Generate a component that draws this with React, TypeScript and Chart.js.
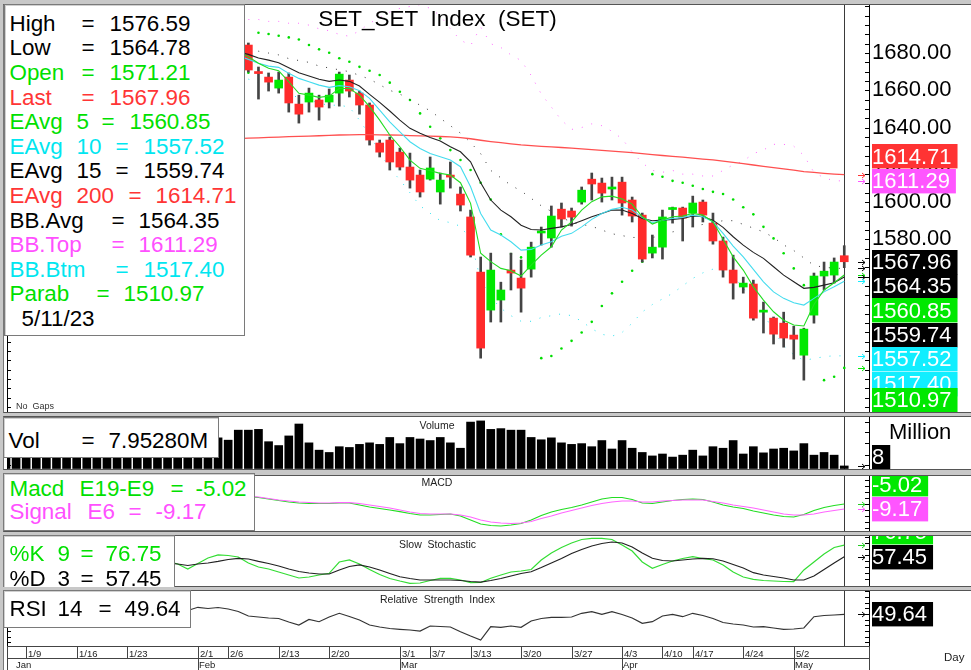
import React, { useEffect, useRef } from "react";
import { Chart, registerables } from "chart.js";

Chart.register(...registerables);

const FONT = '"Liberation Sans", Arial, Helvetica, sans-serif';
const _ = null;

// ---------------- data ----------------
const DATES = [
  "1/5","1/6","1/9","1/10","1/11","1/12","1/13","1/16","1/17","1/18","1/19","1/20","1/23","1/24","1/25","1/26","1/27","1/30","1/31",
  "2/1","2/2","2/3","2/6","2/7","2/8","2/9","2/10","2/13","2/14","2/15","2/16","2/17","2/20","2/21","2/22","2/23","2/24","2/27","2/28",
  "3/1","3/2","3/3","3/7","3/8","3/9","3/10","3/13","3/14","3/15","3/16","3/17","3/20","3/21","3/22","3/23","3/24","3/27","3/28","3/29","3/30","3/31",
  "4/3","4/4","4/5","4/7","4/10","4/11","4/12","4/17","4/18","4/19","4/20","4/21","4/24","4/25","4/26","4/27","4/28",
  "5/2","5/3","5/8","5/9","5/10","5/11",
];
const LAST = DATES.length - 1;
const LAST_DATE_TEXT = "5/11/23";

const OPEN = [
  _,_,_,_,_,_,_,_,_,_,_,_,_,_,_,_,_,_,_,_,_,_,_,_,
  1684.3,1669.8,1667.1,1661.2,1667.1,1652.6,1653.7,1654.8,1653.7,1658.5,
  1665.5,1658.5,1652.1,1631.7,1633.3,1626.8,1618.8,1614.5,1612.3,1605.4,
  1614.5,1604.3,1592.0,1562.4,1542.0,1547.4,1563.5,1559.2,1564.0,1583.4,
  1580.7,1596.2,1595.2,1600.0,1612.3,1610.2,1607.0,1610.7,1601.1,1593.0,
  1572.6,1575.8,1596.0,1596.8,1594.1,1600.0,1588.7,1579.1,1563.5,1554.4,
  1556.0,1540.9,1537.7,1535.0,1528.6,1517.8,1539.3,1560.3,1560.8,1571.21,
];
const HIGH = [
  _,_,_,_,_,_,_,_,_,_,_,_,_,_,_,_,_,_,_,_,_,_,_,_,
  1685.4,1672.5,1669.3,1669.8,1669.3,1657.4,1661.2,1657.4,1660.7,1669.8,
  1668.2,1659.6,1653.2,1633.3,1634.9,1629.0,1626.3,1617.2,1624.2,1615.6,
  1621.5,1608.1,1595.7,1570.5,1572.6,1557.0,1572.6,1568.9,1578.5,1586.6,
  1597.9,1599.5,1596.8,1608.1,1615.6,1612.9,1613.4,1613.4,1602.7,1594.1,
  1582.3,1595.7,1597.3,1597.3,1603.2,1601.1,1594.1,1581.2,1571.5,1559.7,
  1558.1,1546.3,1538.3,1540.9,1533.4,1532.3,1561.9,1567.8,1570.0,1576.59,
];
const LOW = [
  _,_,_,_,_,_,_,_,_,_,_,_,_,_,_,_,_,_,_,_,_,_,_,_,
  1669.8,1655.3,1659.6,1658.5,1648.3,1642.4,1648.3,1644.0,1650.5,1651.5,
  1656.4,1647.2,1630.6,1624.2,1617.2,1617.2,1607.5,1602.7,1611.8,1598.9,
  1607.5,1595.2,1570.5,1516.2,1535.6,1535.6,1552.8,1540.9,1559.7,1576.9,
  1575.8,1586.6,1587.1,1598.9,1601.1,1600.0,1601.1,1593.0,1589.3,1567.8,
  1570.0,1569.4,1588.7,1579.1,1586.6,1589.3,1577.4,1559.7,1547.9,1551.1,
  1536.6,1529.7,1523.8,1522.1,1515.7,1504.4,1535.0,1552.8,1556.5,1564.78,
];
const CLOSE = [
  _,_,_,_,_,_,_,_,_,_,_,_,_,_,_,_,_,_,_,_,_,_,_,_,
  1670.9,1669.0,1664.4,1665.5,1653.2,1647.2,1658.5,1651.0,1657.4,1668.7,
  1659.6,1652.1,1633.3,1626.8,1621.5,1618.8,1611.8,1605.4,1618.3,1611.8,
  1613.4,1598.4,1571.5,1521.6,1563.5,1552.8,1561.9,1553.8,1575.8,1583.9,
  1592.5,1590.9,1591.9,1606.4,1609.7,1604.8,1608.1,1599.5,1592.5,1569.4,
  1575.8,1592.0,1596.2,1591.4,1599.5,1593.0,1579.1,1563.5,1556.5,1556.5,
  1537.7,1542.0,1529.1,1527.0,1526.4,1531.8,1560.3,1562.9,1567.8,1567.96,
];
const VOLUME = [
  78,70,85,74,66,72,80,68,75,90,70,64,76,82,72,68,86,74,80,92,84,
  81,75,101,101,103,71,61,86,117,68,
  49,43,58,56,64,68,64,82,66,82,
  78,74,82,68,54,122,125,103,105,101,
  101,82,76,81,68,64,66,58,74,52,
  74,54,43,34,39,31,36,49,34,58,
  54,74,39,58,42,52,54,47,66,36,
  43,36,7.9528,
];
const EMA5 = [
  _,_,_,_,_,_,_,_,_,_,_,_,_,_,_,_,_,_,_,_,_,_,_,
  1681.0,1678.0,1674.5,1671.8,1670.5,1664.6,1658.4,1657.4,1656.2,1656.9,
  1661.0,1661.0,1657.4,1651.2,1644.0,1636.0,1629.7,1622.5,1618.1,1616.8,
  1615.4,1614.5,1610.4,1599.3,1572.5,1568.0,1564.4,1563.1,1560.3,1566.2,
  1571.5,1576.0,1585.0,1589.4,1595.7,1600.2,1602.8,1603.2,1601.6,1598.9,
  1592.1,1588.2,1590.3,1592.1,1592.5,1593.9,1593.0,1589.4,1580.0,1570.6,
  1563.5,1554.5,1547.4,1541.1,1536.6,1534.0,1533.5,1545.0,1552.8,1556.7,1560.85,
];
const EMA10 = [
  _,_,_,_,_,_,_,_,_,_,_,_,_,_,_,_,_,_,_,_,_,_,_,
  1678.5,1676.6,1674.5,1673.0,1672.3,1669.1,1666.4,1664.6,1662.8,1661.6,
  1662.5,1661.9,1659.8,1655.7,1649.4,1643.1,1637.7,1632.4,1628.8,1626.1,
  1624.3,1622.6,1619.0,1608.2,1593.9,1585.0,1582.3,1578.7,1574.2,1574.6,
  1576.9,1578.7,1581.7,1583.2,1586.7,1590.7,1593.9,1596.1,1597.2,1595.7,
  1591.8,1588.9,1590.3,1591.2,1591.8,1593.0,1592.1,1589.4,1583.2,1576.4,
  1570.6,1563.9,1557.2,1551.8,1548.3,1545.9,1544.7,1548.3,1551.8,1554.5,1557.52,
];
const EMA15 = [
  _,_,_,_,_,_,_,_,_,_,_,_,_,_,_,_,_,_,_,_,_,_,_,
  1680.5,1679.3,1677.3,1676.2,1674.8,1672.1,1669.4,1667.7,1665.9,1664.8,
  1665.5,1664.8,1662.3,1657.8,1653.5,1648.9,1644.0,1639.6,1636.9,1634.7,
  1632.8,1629.7,1627.0,1621.6,1610.4,1601.1,1595.7,1592.1,1587.6,1585.3,
  1585.0,1585.9,1586.7,1588.0,1590.0,1592.1,1593.9,1595.7,1595.7,1593.9,
  1591.2,1590.0,1590.3,1590.7,1591.2,1592.5,1592.1,1590.3,1586.4,1581.4,
  1576.9,1573.0,1569.8,1565.3,1560.8,1557.2,1553.7,1554.2,1555.4,1556.7,1559.74,
];
const EMA200 = [
  _,_,_,_,_,_,_,_,_,_,_,_,_,_,_,_,_,_,_,_,_,_,_,
  1634.1,1634.3,1634.5,1634.7,1634.9,1635.1,1635.3,1635.4,1635.6,1635.8,
  1636.0,1636.1,1636.2,1636.2,1636.1,1636.0,1635.9,1635.7,1635.5,1635.4,
  1635.2,1635.0,1634.6,1634.0,1633.2,1632.5,1631.9,1631.3,1630.7,1630.3,
  1629.9,1629.6,1629.3,1629.0,1628.6,1628.2,1627.8,1627.4,1627.0,1626.5,
  1626.0,1625.5,1625.0,1624.5,1624.1,1623.6,1623.1,1622.6,1622.0,1621.3,
  1620.6,1619.9,1619.2,1618.5,1617.8,1617.1,1616.4,1615.9,1615.4,1615.0,1614.71,
];
const BB_AVG = [
  _,_,_,_,_,_,_,_,_,_,_,_,_,_,_,_,_,_,_,_,_,_,_,_,
  1682,1681,1680,1679,1677,1676,1675,1673,1672,1671,
  1670,1668,1666,1663,1660,1658,1655,1652,1649,1645,
  1641,1637,1632,1626,1617,1613,1609,1606,1602,1598,
  1595,1592,1589,1588,1587,1585,1583,1582,1581,1581,
  1581,1582,1584,1585,1587,1588,1589,1590,1590,1588,
  1586,1584,1581,1577,1574,1570,1566,1565,1564.5,1564.35,
];
const BB_TOP = [
  _,_,_,_,_,_,_,_,_,_,_,_,_,_,_,_,_,_,_,_,_,_,_,_,
  1698,1698,1697,1697,1696,1696,1695,1693,1692,1690,
  1689,1692,1696,1699,1702,1704,1705,1706,1704,1700,
  1693,1687,1684,1694,1685,1683,1679,1676,1668,1658,
  1651,1644,1639,1640,1642,1641,1638,1634,1627,1621,
  1617,1616,1617,1615,1615,1614,1614,1617,1620,1622,
  1626,1628,1631,1631,1630,1625,1616,1613,1611.5,1611.29,
];
const BB_BTM = [
  _,_,_,_,_,_,_,_,_,_,_,_,_,_,_,_,_,_,_,_,_,_,_,_,
  1666,1664,1663,1661,1658,1656,1655,1653,1652,1652,
  1651,1644,1636,1627,1618,1612,1605,1598,1594,1590,
  1589,1587,1580,1558,1549,1543,1539,1536,1536,1538,
  1539,1540,1539,1536,1532,1529,1528,1530,1535,1541,
  1545,1548,1551,1555,1559,1562,1564,1563,1560,1554,
  1546,1540,1531,1523,1518,1515,1516,1517,1517.5,1517.40,
];
const PARAB = [
  _,_,_,_,_,_,_,_,_,_,_,_,_,_,_,_,_,_,_,_,_,_,_,_,
  1669.4,1690.9,1690.2,1689.3,1688.4,1687.3,1684.3,1682.0,1680.2,1677.2,
  1675.3,1672.6,1670.5,1668.2,1664.1,1659.2,1654.8,1647.6,1640.4,1634.2,
  1627.9,1622.6,1617.2,1610.4,1601.4,1582.7,1572.1,1570.3,_,1516.2,
  1517.4,1521.4,1525.5,1530.0,1535.7,1544.2,1551.0,1557.2,1563.1,1568.0,
  1615.0,1613.6,1611.4,1610.4,1608.8,1607.0,1605.5,1604.3,1601.4,1597.2,
  1593.4,1586.7,1580.5,1572.5,1564.4,1555.4,_,1504.4,1506.2,1510.97,
];
const MACD = [
  _,_,_,_,_,_,_,_,_,_,_,_,_,_,_,_,_,_,_,_,_,_,_,_,
  1.23,0.40,-0.85,-2.10,-3.35,-4.19,-4.60,-4.60,-4.60,-4.19,
  -4.19,-5.85,-7.52,-8.77,-10.02,-11.44,-12.94,-14.19,-14.19,-13.77,
  -13.35,-15.02,-18.35,-21.69,-22.94,-23.35,-22.52,-21.27,-18.35,-14.60,
  -11.69,-9.60,-7.94,-5.85,-3.35,-0.85,0.40,0.40,-1.27,-4.19,
  -4.60,-3.35,-2.10,-1.27,-0.85,-1.27,-3.35,-5.85,-7.52,-8.77,
  -10.85,-12.52,-14.19,-15.44,-15.85,-13.77,-10.44,-7.94,-6.27,-5.02,
];
const SIGNAL = [
  _,_,_,_,_,_,_,_,_,_,_,_,_,_,_,_,_,_,_,_,_,_,_,_,
  1.65,0.81,-0.44,-1.69,-2.52,-3.35,-3.77,-4.19,-4.19,-3.94,
  -3.94,-4.60,-5.85,-7.10,-8.35,-10.02,-11.69,-12.94,-13.35,-13.35,
  -13.35,-14.19,-15.85,-18.35,-20.02,-20.85,-21.27,-20.85,-19.60,-17.10,
  -15.02,-12.52,-10.44,-8.35,-6.27,-4.60,-3.35,-2.52,-2.52,-3.35,
  -3.35,-2.52,-2.10,-1.69,-1.69,-1.69,-2.94,-4.19,-5.85,-7.10,
  -8.35,-10.02,-11.69,-13.35,-14.19,-14.19,-13.35,-11.69,-10.44,-9.17,
];
const STOCH_K = [
  _,_,_,_,_,_,_,_,_,_,_,_,_,_,_,_,
  50.0,45.5,37.2,46.4,55.5,60.5,59.6,57.1,
  47.2,40.5,37.2,32.2,27.3,22.3,23.9,27.3,30.1,48.8,
  52.2,45.5,36.4,28.1,21.5,17.3,13.5,14.0,18.1,21.5,
  21.8,19.0,14.5,14.8,21.8,27.3,32.2,33.9,36.4,52.2,
  63.8,72.9,80.4,86.2,88.2,88.2,86.2,77.1,67.1,48.8,
  38.4,44.7,50.5,54.7,57.6,54.7,52.2,43.9,32.2,23.9,
  20.1,18.1,17.3,16.5,16.1,35.6,48.8,62.1,72.9,76.75,
];
const STOCH_D = [
  _,_,_,_,_,_,_,_,_,_,_,_,_,_,_,_,
  47.0,45.5,43.0,45.5,47.2,49.8,53.0,55.0,
  53.8,49.8,46.4,42.2,37.2,33.1,30.6,28.9,28.9,35.6,
  41.4,43.9,40.5,35.6,29.8,24.4,21.5,19.0,19.0,19.0,
  19.0,18.1,16.5,15.6,18.1,21.5,25.6,29.8,32.7,39.7,
  47.2,54.7,63.0,69.6,75.4,79.6,82.0,80.4,73.7,63.8,
  55.0,51.3,50.5,52.2,53.8,55.0,54.2,50.5,44.7,38.9,
  31.1,27.3,24.8,22.3,19.0,19.0,25.6,36.4,47.2,57.45,
];
const RSI = [
  _,_,_,_,_,_,_,_,_,_,_,_,_,_,_,_,_,
  53.5,52.98,55.80,54.74,55.62,54.30,52.10,
  48.14,47.27,46.39,45.95,42.87,40.23,45.07,43.13,47.27,50.52,
  47.71,44.63,40.23,38.47,37.15,36.45,35.83,34.95,39.35,38.91,
  38.47,34.34,30.56,27.04,38.73,38.21,39.35,38.21,43.75,45.95,
  47.00,47.00,47.27,50.52,51.93,49.64,51.93,49.46,46.39,41.72,
  43.13,48.14,49.64,47.53,50.52,48.58,45.95,42.43,41.11,40.23,
  38.47,38.73,37.59,36.45,36.71,37.59,47.53,48.58,49.02,49.64,
];

const PRICE_TICKS = [1680, 1660, 1640, 1620, 1600, 1580, 1560, 1540, 1520, 1500];
const PRICE_TICK_LABELS = ["1680.00","1660.00","1640.00","1620.00","1600.00","1580.00","1560.00","1540.00","1520.00","1500.00"];
const WEEK_TICK_LABELS = ["1/9","1/16","1/23","2/1","2/6","2/13","2/20","3/1","3/7","3/13","3/20","3/27","4/3","4/10","4/17","4/24","5/2"];
const MONTH_LABELS = ["Jan", "Feb", "Mar", "Apr", "May"];
const MONTH_START_DATES = ["1/5", "2/1", "3/1", "4/3", "5/2"];
const VOL_TICKS = [10, 36, 68, 96, 122];
const MACD_TICKS = [15, 10, 5, 0, -5, -10, -15, -20, -25];
const STOCH_TICKS = [20, 30, 40, 50, 60, 70, 80, 90];
const RSI_TICKS = [25, 30, 35, 40, 45, 50, 55, 60, 65, 70];

// ---------------- styling / layout ----------------
const C_GREEN = "#00e800";
const C_RED = "#ff3333";
const C_CYAN = "#11eeff";
const C_MAGENTA = "#ff55ff";
const T_GREEN = "#00e000";
const T_RED = "#ff3535";
const T_CYAN = "#00e6f0";
const T_MAGENTA = "#ff50ff";

const X_MIN = 0.2;
const X_MAX = 85.45;
const AXIS_W = 102;
const CANVAS_W = 967;

const PANELS = [
  { top: 5, h: 407, extra: 0, yMin: 1487.3, yMax: 1705.8 },
  { top: 417, h: 52, extra: 0, yMin: 0, yMax: 135.2 },
  { top: 476, h: 55, extra: 0, yMin: -27.5, yMax: 18.3 },
  { top: 536, h: 50, extra: 0, yMin: 9, yMax: 92 },
  { top: 591, h: 55, extra: 24, yMin: 21.8, yMax: 70.1 },
];

const series = (arr: any[]) =>
  arr.map((v, i) => (v == null ? null : { x: i, y: v })).filter((p) => p !== null);

const lineDs = (arr: any[], color: string, width: number, extra: any = {}) => ({
  type: "line",
  data: series(arr),
  borderColor: color,
  borderWidth: width,
  pointRadius: 0,
  pointHitRadius: 0,
  fill: false,
  tension: 0,
  ...extra,
});

function makeDecor(cfg: any) {
  return {
    id: "decor",
    beforeDatasetsDraw(chart: any) {
      const { ctx, chartArea: a, scales } = chart;
      const x = Math.round(scales.x.getPixelForValue(LAST)) + 0.5;
      ctx.save();
      ctx.strokeStyle = "#3a3a3a";
      ctx.lineWidth = 1;
      ctx.beginPath();
      ctx.moveTo(x, a.top);
      ctx.lineTo(x, a.bottom);
      ctx.stroke();
      ctx.restore();
    },
    afterDraw(chart: any) {
      const { ctx, chartArea: a, scales } = chart;
      const ys = scales.y;
      ctx.save();
      ctx.strokeStyle = "#000";
      ctx.lineWidth = 1;
      ctx.beginPath();
      ctx.moveTo(a.left - 0.5, a.top);
      ctx.lineTo(a.left - 0.5, a.bottom);
      ctx.stroke();
      const tv: number[] = [];
      if (cfg.tickStep) {
        for (let v = cfg.tickFrom; v <= cfg.tickTo; v += cfg.tickStep) tv.push(v);
      }
      (cfg.ticks || []).forEach((v: number) => tv.push(v));
      tv.forEach((v) => {
        const py = Math.round(ys.getPixelForValue(v)) + 0.5;
        if (py < a.top || py > a.bottom) return;
        ctx.beginPath();
        ctx.moveTo(a.right - 4, py);
        ctx.lineTo(a.right, py);
        if (cfg.leftTicks) {
          ctx.moveTo(a.left, py);
          ctx.lineTo(a.left + 3, py);
        }
        ctx.stroke();
      });

      if (cfg.boxes) {
        const H = 24.4;
        const items = cfg.boxes.map((b: any) => ({ ...b, py: ys.getPixelForValue(b.value), c: 0 }));
        const an = cfg.anchor || 0;
        items[an].c = items[an].py;
        for (let k = an - 1; k >= 0; k--) items[k].c = Math.min(items[k].py, items[k + 1].c - H);
        for (let k = an + 1; k < items.length; k++) items[k].c = Math.max(items[k].py, items[k - 1].c + H);
        items.forEach((it: any) => {
          if (it.c + H / 2 > a.bottom) it.c = a.bottom - H / 2;
        });
        items.forEach((it: any) => {
          const ay = Math.round(it.py) + 0.5;
          ctx.strokeStyle = it.arrow;
          ctx.beginPath();
          ctx.moveTo(a.right - 11, ay);
          ctx.lineTo(a.right - 4, ay);
          ctx.moveTo(a.right - 7, ay - 2.5);
          ctx.lineTo(a.right - 4, ay);
          ctx.lineTo(a.right - 7, ay + 2.5);
          ctx.stroke();
        });
        ctx.font = `22px ${FONT}`;
        ctx.textBaseline = "middle";
        ctx.textAlign = "left";
        items.forEach((it: any) => {
          const w = ctx.measureText(it.text).width + 6;
          ctx.fillStyle = it.bg;
          ctx.fillRect(a.right + 3, Math.round(it.c - H / 2), w, H);
          ctx.fillStyle = "#fff";
          ctx.fillText(it.text, a.right + 3, it.c + 1);
        });
      }

      if (cfg.xAxis) {
        const xs = scales.x;
        const y0 = a.bottom;
        const HH = chart.height;
        ctx.strokeStyle = "#444";
        const hl = (x1: number, x2: number, y: number) => {
          ctx.beginPath(); ctx.moveTo(x1, y); ctx.lineTo(x2, y); ctx.stroke();
        };
        const vl = (x: number, y1: number, y2: number) => {
          ctx.beginPath(); ctx.moveTo(x, y1); ctx.lineTo(x, y2); ctx.stroke();
        };
        hl(a.left - 1, a.right, y0 + 0.5);
        hl(a.left - 1, a.right, y0 + 12.5);
        vl(a.right + 0.5, y0, HH);
        vl(a.left - 0.5, y0, HH);
        ctx.fillStyle = "#222";
        ctx.font = `9.5px ${FONT}`;
        ctx.textBaseline = "alphabetic";
        ctx.textAlign = "left";
        WEEK_TICK_LABELS.forEach((lbl) => {
          const i = DATES.indexOf(lbl);
          const px = Math.round(xs.getPixelForValue(i)) + 0.5;
          const isMonth = MONTH_START_DATES.includes(lbl);
          vl(px, y0, isMonth ? HH : y0 + 12);
          ctx.fillText(lbl, px + 1.5, y0 + 11);
        });
        MONTH_LABELS.forEach((m, k) => {
          const i = DATES.indexOf(MONTH_START_DATES[k]);
          const px = xs.getPixelForValue(i);
          const lx = px < a.left ? a.left + 8 : Math.round(px) + 1;
          ctx.fillText(m, lx, HH - 2.5);
        });
      }
      ctx.restore();
    },
  };
}

function baseOptions(p: any, yExtra: any = {}) {
  return {
    animation: false,
    responsive: false,
    devicePixelRatio: 1,
    events: [],
    layout: { autoPadding: false, padding: { left: 4, right: 0, top: 0, bottom: p.extra } },
    plugins: { legend: { display: false }, tooltip: { enabled: false }, title: { display: false } },
    scales: {
      x: { type: "linear", min: X_MIN, max: X_MAX, display: false, offset: false },
      y: {
        position: "right",
        min: p.yMin,
        max: p.yMax,
        bounds: "data",
        grid: { drawOnChartArea: false, drawTicks: false },
        border: { display: true, color: "#000", width: 1 },
        ticks: { display: false },
        afterFit: (s: any) => {
          s.width = AXIS_W;
          s.paddingTop = 0;
          s.paddingBottom = 0;
        },
        ...yExtra,
      },
    },
  };
}

function buildConfigs() {
  const bodies = CLOSE.map((c, i) => (c == null ? null : { x: i, y: [OPEN[i], c] })).filter((p) => p !== null);
  const bodyColors = bodies.map((p: any) => (CLOSE[p.x] >= OPEN[p.x] ? C_GREEN : "#ff2b2b"));
  const wicks = CLOSE.map((c, i) => (c == null ? null : { x: i, y: [LOW[i], HIGH[i]] })).filter((p) => p !== null);

  const mainBoxes = [
    { value: EMA200[LAST], bg: C_RED },
    { value: BB_TOP[LAST], bg: C_MAGENTA },
    { value: CLOSE[LAST], bg: "#000" },
    { value: BB_AVG[LAST], bg: "#000" },
    { value: EMA5[LAST], bg: C_GREEN },
    { value: EMA15[LAST], bg: "#000" },
    { value: EMA10[LAST], bg: C_CYAN },
    { value: BB_BTM[LAST], bg: C_CYAN },
    { value: PARAB[LAST], bg: C_GREEN },
  ].map((b: any) => ({ ...b, text: b.value.toFixed(2), arrow: b.bg }));

  const main = {
    type: "line",
    data: {
      datasets: [
        { type: "line", data: series(PARAB), showLine: false, pointRadius: 1.3, pointBackgroundColor: "#00dd00", pointBorderWidth: 0, order: 10 },
        lineDs(BB_TOP, "#ff66ff", 1, { borderDash: [1, 9], order: 9 }),
        lineDs(BB_AVG, "#333333", 1, { borderDash: [1, 9], order: 9 }),
        lineDs(BB_BTM, "#22e0ee", 1, { borderDash: [1, 9], order: 9 }),
        { type: "bar", data: wicks, backgroundColor: "#444444", barThickness: 2, grouped: false, order: 8 },
        { type: "bar", data: bodies, backgroundColor: bodyColors, barThickness: 8, grouped: false, minBarLength: 2, order: 7 },
        lineDs(EMA200, "#ff5050", 1.3, { order: 4 }),
        lineDs(EMA15, "#222222", 1.1, { order: 3 }),
        lineDs(EMA10, "#44dcee", 1.1, { order: 2 }),
        lineDs(EMA5, "#22dd22", 1.1, { order: 1 }),
      ],
    },
    options: baseOptions(PANELS[0], {
      afterBuildTicks: (s: any) => {
        s.ticks = PRICE_TICKS.map((v) => ({ value: v }));
      },
      ticks: {
        display: true,
        autoSkip: false,
        padding: 3,
        color: "#000",
        font: { family: FONT, size: 22 },
        callback: (_v: any, idx: number) => PRICE_TICK_LABELS[idx],
      },
    }),
    plugins: [makeDecor({ tickStep: 5, tickFrom: 1490, tickTo: 1705, leftTicks: true, boxes: mainBoxes, anchor: 2 })],
  };

  const vol = {
    type: "line",
    data: {
      datasets: [{ type: "bar", data: series(VOLUME), backgroundColor: "#000", barThickness: 8, grouped: false }],
    },
    options: baseOptions(PANELS[1]),
    plugins: [
      makeDecor({
        ticks: VOL_TICKS,
        leftTicks: true,
        boxes: [{ value: VOLUME[LAST], text: String(Math.round(VOLUME[LAST])), bg: "#000", arrow: "#000" }],
        anchor: 0,
      }),
    ],
  };

  const macd = {
    type: "line",
    data: { datasets: [lineDs(SIGNAL, "#ff66ff", 1.2), lineDs(MACD, "#22dd22", 1.2)] },
    options: baseOptions(PANELS[2]),
    plugins: [
      makeDecor({
        ticks: MACD_TICKS,
        boxes: [
          { value: MACD[LAST], text: MACD[LAST].toFixed(2), bg: C_GREEN, arrow: "#22cc22" },
          { value: SIGNAL[LAST], text: SIGNAL[LAST].toFixed(2), bg: C_MAGENTA, arrow: C_MAGENTA },
        ],
        anchor: 1,
      }),
    ],
  };

  const stoch = {
    type: "line",
    data: { datasets: [lineDs(STOCH_D, "#222222", 1.2), lineDs(STOCH_K, "#33dd33", 1.2)] },
    options: baseOptions(PANELS[3]),
    plugins: [
      makeDecor({
        ticks: STOCH_TICKS,
        boxes: [
          { value: STOCH_K[LAST], text: STOCH_K[LAST].toFixed(2), bg: C_GREEN, arrow: "#22cc22" },
          { value: STOCH_D[LAST], text: STOCH_D[LAST].toFixed(2), bg: "#000", arrow: "#000" },
        ],
        anchor: 1,
      }),
    ],
  };

  const rsi = {
    type: "line",
    data: { datasets: [lineDs(RSI, "#333333", 1.2)] },
    options: baseOptions(PANELS[4]),
    plugins: [
      makeDecor({
        ticks: RSI_TICKS,
        leftTicks: true,
        boxes: [{ value: RSI[LAST], text: RSI[LAST].toFixed(2), bg: "#000", arrow: "#000" }],
        anchor: 0,
        xAxis: true,
      }),
    ],
  };
  return [main, vol, macd, stoch, rsi];
}

// ---------------- overlay text ----------------
const fmt = (v: any) => Number(v).toFixed(2);
const LEGEND_SIZE = 22.4;

const MAIN_ROWS = [
  { color: "#000", parts: [[11, "High"], [83, "="], [111, fmt(HIGH[LAST])]] },
  { color: "#000", parts: [[11, "Low"], [83, "="], [111, fmt(LOW[LAST])]] },
  { color: T_GREEN, parts: [[11, "Open"], [83, "="], [111, fmt(OPEN[LAST])]] },
  { color: T_RED, parts: [[11, "Last"], [83, "="], [111, fmt(CLOSE[LAST])]] },
  { color: T_GREEN, parts: [[11, "EAvg"], [78, "5"], [103, "="], [131, fmt(EMA5[LAST])]] },
  { color: T_CYAN, parts: [[11, "EAvg"], [78, "10"], [117, "="], [145, fmt(EMA10[LAST])]] },
  { color: "#000", parts: [[11, "EAvg"], [78, "15"], [117, "="], [145, fmt(EMA15[LAST])]] },
  { color: T_RED, parts: [[11, "EAvg"], [78, "200"], [130, "="], [157, fmt(EMA200[LAST])]] },
  { color: "#000", parts: [[11, "BB.Avg"], [113, "="], [140, fmt(BB_AVG[LAST])]] },
  { color: T_MAGENTA, parts: [[11, "BB.Top"], [113, "="], [140, fmt(BB_TOP[LAST])]] },
  { color: T_CYAN, parts: [[11, "BB.Btm"], [117, "="], [145, fmt(BB_BTM[LAST])]] },
  { color: T_GREEN, parts: [[11, "Parab"], [98, "="], [125, fmt(PARAB[LAST])]] },
  { color: "#000", parts: [[23, LAST_DATE_TEXT]] },
].map((r, k) => ({ ...r, b: 31.7 + 24.6 * k }));

const VOL_ROWS = [{ color: "#000", b: 449, parts: [[10, "Vol"], [83, "="], [110, VOLUME[LAST].toFixed(5) + "M"]] }];
const MACD_ROWS = [
  { color: T_GREEN, b: 496.7, parts: [[11, "Macd"], [81, "E19-E9"], [172, "="], [197, fmt(MACD[LAST])]] },
  { color: T_MAGENTA, b: 520, parts: [[11, "Signal"], [89, "E6"], [130, "="], [157, fmt(SIGNAL[LAST])]] },
];
const STOCH_ROWS = [
  { color: T_GREEN, b: 562.3, parts: [[11, "%K"], [59, "9"], [82, "="], [107, fmt(STOCH_K[LAST])]] },
  { color: "#000", b: 586.7, parts: [[11, "%D"], [59, "3"], [82, "="], [107, fmt(STOCH_D[LAST])]] },
];
const RSI_ROWS = [{ color: "#000", b: 617.3, parts: [[11, "RSI"], [59, "14"], [100, "="], [126, fmt(RSI[LAST])]] }];

function InfoBox({ left, top, width, height, rows, noBottom }: any) {
  return (
    <div
      style={{
        position: "absolute",
        left,
        top,
        width,
        height,
        background: "#fff",
        border: "1px solid #7a7a7a",
        borderBottom: noBottom ? "none" : "1px solid #7a7a7a",
        boxShadow: "inset 1px 1px 0 #d0d0d0",
        boxSizing: "border-box",
        overflow: "hidden",
        zIndex: 3,
      }}
    >
      {rows.map((r: any, k: number) =>
        r.parts.map(([x, t]: any, j: number) => (
          <span
            key={`${k}-${j}`}
            style={{
              position: "absolute",
              left: x - 1.5 - left - 1,
              top: r.b - 0.8465 * LEGEND_SIZE - top - 1,
              fontSize: LEGEND_SIZE,
              lineHeight: `${LEGEND_SIZE}px`,
              color: r.color,
              fontFamily: FONT,
              whiteSpace: "pre",
            }}
          >
            {t}
          </span>
        ))
      )}
    </div>
  );
}

function Label({ x, b, size, text, center, color = "#000" }: any) {
  const style: any = {
    position: "absolute",
    top: b - 0.8465 * size,
    fontSize: size,
    lineHeight: `${size}px`,
    color,
    fontFamily: FONT,
    whiteSpace: "pre",
    zIndex: 4,
  };
  if (center) {
    style.left = 0;
    style.width = 2 * x;
    style.textAlign = "center";
  } else {
    style.left = x;
  }
  return <div style={style}>{text}</div>;
}

export default function App() {
  const r0 = useRef<HTMLCanvasElement>(null);
  const r1 = useRef<HTMLCanvasElement>(null);
  const r2 = useRef<HTMLCanvasElement>(null);
  const r3 = useRef<HTMLCanvasElement>(null);
  const r4 = useRef<HTMLCanvasElement>(null);
  const refs = [r0, r1, r2, r3, r4];

  useEffect(() => {
    const cfgs = buildConfigs();
    const charts = cfgs.map((c: any, k: number) => new Chart(refs[k].current as any, c));
    return () => charts.forEach((c) => c.destroy());
  }, []);

  return (
    <div style={{ position: "fixed", left: 0, top: 0, width: 971, height: 670, background: "#c8c8c8", overflow: "hidden" }}>
      {PANELS.map((p, k) => (
        <div
          key={k}
          style={{
            position: "absolute",
            left: 3,
            top: p.top - 1,
            width: 968,
            height: p.h + (p.extra ? p.extra + 1 : 2),
            background: "#fff",
            borderTop: "1px solid #555",
            borderBottom: p.extra ? "none" : "1px solid #555",
            borderLeft: "1px solid #777",
            boxSizing: "border-box",
            zIndex: 1,
          }}
        >
          <canvas
            ref={refs[k]}
            width={CANVAS_W}
            height={p.h + p.extra}
            style={{ position: "absolute", left: 0, top: 0, width: CANVAS_W, height: p.h + p.extra, display: "block" }}
          />
        </div>
      ))}

      <InfoBox left={4} top={4} width={241} height={332} rows={MAIN_ROWS} />
      <InfoBox left={3} top={417} width={216} height={41} rows={VOL_ROWS} />
      <InfoBox left={3} top={473} width={252} height={58} rows={MACD_ROWS} />
      <InfoBox left={3} top={535} width={172} height={52} rows={STOCH_ROWS} noBottom />
      <InfoBox left={3} top={590} width={188} height={38} rows={RSI_ROWS} />

      <Label x={437.5} b={27} size={22.5} text="SET_SET  Index  (SET)" center />
      <Label x={16} b={410} size={9} text="No  Gaps" color="#333" />
      <Label x={437} b={428.5} size={10.5} text="Volume" center color="#222" />
      <Label x={437} b={486} size={10.5} text="MACD" center color="#222" />
      <Label x={437.5} b={548} size={10.5} text="Slow  Stochastic" center color="#222" />
      <Label x={437.5} b={603} size={10.5} text="Relative  Strength  Index" center color="#222" />
      <Label x={889} b={440} size={22} text="Million" />
      <Label x={944} b={662} size={11.5} text="Day" color="#222" />
    </div>
  );
}
